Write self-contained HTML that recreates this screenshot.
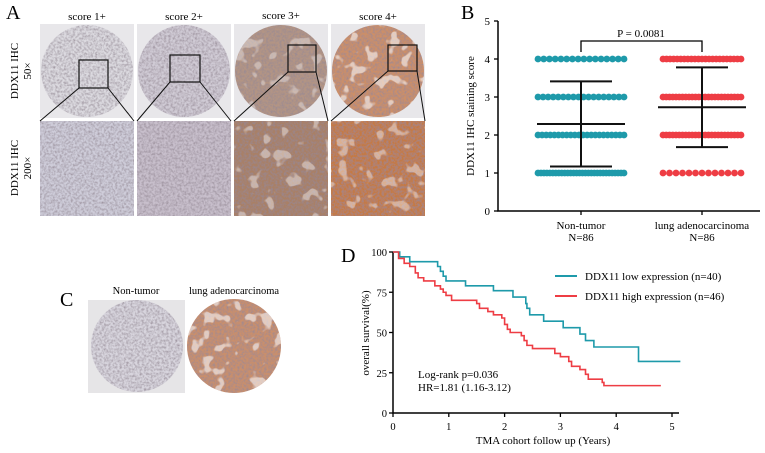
<!DOCTYPE html>
<html><head><meta charset="utf-8"><style>
body{margin:0;background:#fff;}
svg{display:block;font-family:"Liberation Serif",serif;}
</style></head><body>
<svg id="fig" width="765" height="453" viewBox="0 0 765 453" xmlns="http://www.w3.org/2000/svg">
<defs>
<filter id="tex" x="0" y="0" width="100%" height="100%">
<feTurbulence type="fractalNoise" baseFrequency="0.45" numOctaves="2" seed="3" result="n"/>
<feColorMatrix in="n" type="matrix" values="0 0 0 0 0.3  0 0 0 0 0.25  0 0 0 0 0.3  0 0 0 -1.6 1.05"/>
<feComposite in2="SourceGraphic" operator="in" result="t"/>
<feMerge><feMergeNode in="SourceGraphic"/><feMergeNode in="t"/></feMerge>
</filter>
<filter id="holes" x="0" y="0" width="100%" height="100%">
<feTurbulence type="fractalNoise" baseFrequency="0.08" numOctaves="2" seed="7" result="n"/>
<feColorMatrix in="n" type="matrix" values="0 0 0 0 1  0 0 0 0 1  0 0 0 0 1  0 0 0 -12 4.9"/>
<feComposite in2="SourceGraphic" operator="in"/>
</filter>
</defs>

<g>
<text x="6" y="19" font-size="20">A</text>
<text x="87" y="20" font-size="11" text-anchor="middle">score 1+</text>
<text x="184" y="20" font-size="11" text-anchor="middle">score 2+</text>
<text x="281" y="19" font-size="11" text-anchor="middle">score 3+</text>
<text x="378" y="20" font-size="11" text-anchor="middle">score 4+</text>
<text transform="translate(18,71) rotate(-90)" font-size="11" text-anchor="middle">DDX11 IHC</text>
<text transform="translate(31,71) rotate(-90)" font-size="11" text-anchor="middle">50×</text>
<text transform="translate(18,168) rotate(-90)" font-size="11" text-anchor="middle">DDX11 IHC</text>
<text transform="translate(31,168) rotate(-90)" font-size="11" text-anchor="middle">200×</text>
<g id="agrid"></g>
</g>

<g>
<text x="60" y="306" font-size="20">C</text>
<text x="136" y="294" font-size="10.5" text-anchor="middle">Non-tumor</text>
<text x="234" y="294" font-size="10.5" text-anchor="middle">lung adenocarcinoma</text>
<rect x="88" y="300" width="97" height="93" fill="#e6e5e7"/>
<circle cx="137" cy="346" r="46" fill="#d8d5de" filter="url(#tex)"/>
<circle cx="234" cy="346" r="47" fill="#c98f6c" filter="url(#tex)"/>
<circle cx="234" cy="346" r="47" fill="#fff" filter="url(#holes)" opacity="0.55"/>
</g>

<g id="pb">
<text x="461" y="19" font-size="20">B</text>
</g>

<g id="pd">
<text x="341" y="262" font-size="20">D</text>
</g>
</svg>
<script>
const NS="http://www.w3.org/2000/svg";
function mk(p,tag,attrs){const e=document.createElementNS(NS,tag);for(const k in attrs)e.setAttribute(k,attrs[k]);p.appendChild(e);return e;}

const aColors=["#dcdae0","#d0cbd5","#b39484","#cc8f68"];
const aZoomColors=["#cfcdda","#c8bfcc","#a98066","#c47a45"];
const aBoxes=[[79,60,29,28],[170,55,30,27],[288,45,28,27],[388,45,29,26]];
const ag=document.getElementById('agrid');
for(let i=0;i<4;i++){
  const x=40+i*97;
  const bg=mk(ag,'rect',{x:x,y:24,width:94,height:94,fill:'#e8e7ea'});
  
  
  const c=mk(ag,'circle',{cx:x+47,cy:71,r:46,fill:aColors[i],filter:'url(#tex)'});
  
  
  if(i>=2){
    const h=mk(ag,'circle',{cx:x+47,cy:71,r:46,fill:'#fff',filter:'url(#holes)',opacity:i===3?0.55:0.35});
    
    
  }
  const z=mk(ag,'rect',{x:x,y:121,width:94,height:95,fill:aZoomColors[i],filter:'url(#tex)'});
  
  
  if(i>=2){
    const zh=mk(ag,'rect',{x:x,y:121,width:94,height:95,fill:'#f4ece6',filter:'url(#holes)',opacity:0.4});
    
    
  }
  const b=aBoxes[i];
  const bx=mk(ag,'rect',{x:b[0],y:b[1],width:b[2],height:b[3],fill:'none',stroke:'#111','stroke-width':1.2});
  
  
  const l1=mk(ag,'line',{x1:b[0],y1:b[1]+b[3],x2:x,y2:121,stroke:'#111','stroke-width':1});
  
  
  const l2=mk(ag,'line',{x1:b[0]+b[2],y1:b[1]+b[3],x2:x+94,y2:121,stroke:'#111','stroke-width':1});
  
  
}

const bGroups=["Non-tumor","lung adenocarcinoma"];
const bScores=[1,2,3,4];
const bCountsNT=[30,22,18,16];
const bCountsLung=[13,25,25,23];
const bMeans=[2.29,2.73];
const bSDlo=[1.17,1.68];
const bSDhi=[3.41,3.78];
const bYTicks=[0,1,2,3,4,5];
const bColors=["#1e9aaa","#ee3d44"];
const pb=document.getElementById('pb');
const by=v=>211-v*38;
const bx=i=>[581,702][i];
const bax=mk(pb,'path',{d:'M498,21V211H760',fill:'none',stroke:'#000','stroke-width':1.5});


bYTicks.forEach(t=>{
  const tk=mk(pb,'line',{x1:494,x2:498,y1:by(t),y2:by(t),stroke:'#000','stroke-width':1.3});
  
  
  const tl=mk(pb,'text',{x:490,y:by(t)+4,'font-size':11,'text-anchor':'end'});tl.textContent=t;
  
  
});
const byt=mk(pb,'text',{transform:'translate(474,116) rotate(-90)','font-size':11,'text-anchor':'middle'});
byt.textContent='DDX11 IHC staining score';


[0,1].forEach(g=>{
  const tk=mk(pb,'line',{x1:bx(g),x2:bx(g),y1:211,y2:215,stroke:'#000','stroke-width':1.3});
  
  
  const t1=mk(pb,'text',{x:bx(g),y:229,'font-size':11,'text-anchor':'middle'});t1.textContent=bGroups[g];
  
  
  const t2=mk(pb,'text',{x:bx(g),y:241,'font-size':11,'text-anchor':'middle'});t2.textContent='N=86';
  
  
  const counts=g===0?bCountsNT:bCountsLung;
  const half=g===0?43:39;
  bScores.forEach((s,k)=>{
    const n=counts[k];
    for(let j=0;j<n;j++){
      const cx=bx(g)-half+(n>1?j*(2*half)/(n-1):half);
      const d=mk(pb,'circle',{cx:cx,cy:by(s),r:3.4,fill:bColors[g]});
      
      
    }
  });
  const cw=g===0?31:26;
  const ml=mk(pb,'line',{x1:bx(g)-44,x2:bx(g)+44,y1:by(bMeans[g]),y2:by(bMeans[g]),stroke:'#111','stroke-width':2});
  
  
  const el=mk(pb,'path',{d:`M${bx(g)},${by(bSDlo[g])}V${by(bSDhi[g])}M${bx(g)-cw},${by(bSDlo[g])}H${bx(g)+cw}M${bx(g)-cw},${by(bSDhi[g])}H${bx(g)+cw}`,fill:'none',stroke:'#111','stroke-width':2});
  
  
});
const br=mk(pb,'path',{d:`M${bx(0)},52V41H${bx(1)}V52`,fill:'none',stroke:'#000','stroke-width':1.3});


const pt=mk(pb,'text',{x:641,y:37,'font-size':11,'text-anchor':'middle'});pt.textContent='P = 0.0081';



const dXTicks=[0,1,2,3,4,5];
const dYTicks=[0,25,50,75,100];
const lowT=[0,0.12,0.3,0.8,0.85,0.9,0.95,1.0,1.3,1.8,2.15,2.38,2.4,2.45,2.7,3.05,3.35,3.45,3.6,4.4,5.15];
const lowS=[100,97,94,91,88,85,82,82,79,76,72,68,65,61,57,53,49,45,41,32,32];
const highT=[0,0.1,0.2,0.3,0.4,0.45,0.55,0.75,0.85,0.9,0.95,1.05,1.5,1.55,1.7,1.8,1.95,2.0,2.05,2.1,2.3,2.35,2.4,2.5,2.9,3.0,3.15,3.2,3.35,3.45,3.5,3.75,3.78,4.8];
const highS=[100,96,93,91,87,84,82,79,77,75,73,70,68,65,63,61,59,55,52,50,48,45,42,40,37,35,32,29,27,24,21,19,17,17];
const dColors=["#1e9aaa","#ee3d44"];
const pd=document.getElementById('pd');
const dx=t=>393+t*55.8;
const dy=v=>413-v*1.61;
const dax=mk(pd,'path',{d:`M${dx(0)},${dy(100)}V413H679`,fill:'none',stroke:'#000','stroke-width':1.5});


dYTicks.forEach(t=>{
  const tk=mk(pd,'line',{x1:389,x2:393,y1:dy(t),y2:dy(t),stroke:'#000','stroke-width':1.3});
  
  
  const tl=mk(pd,'text',{x:387,y:dy(t)+4,'font-size':10.5,'text-anchor':'end'});tl.textContent=t;
  
  
});
dXTicks.forEach(t=>{
  const tk=mk(pd,'line',{x1:dx(t),x2:dx(t),y1:413,y2:417,stroke:'#000','stroke-width':1.3});
  
  
  const tl=mk(pd,'text',{x:dx(t),y:430,'font-size':10.5,'text-anchor':'middle'});tl.textContent=t;
  
  
});
const dxt=mk(pd,'text',{x:543,y:444,'font-size':11,'text-anchor':'middle'});dxt.textContent='TMA cohort follow up (Years)';


const dyt=mk(pd,'text',{transform:'translate(369,333) rotate(-90)','font-size':11,'text-anchor':'middle'});dyt.textContent='overall survival(%)';


function km(T,S){let d=`M${dx(T[0])},${dy(S[0])}`;for(let i=1;i<T.length;i++){d+=`H${dx(T[i])}V${dy(S[i])}`;}return d;}
const lp=mk(pd,'path',{d:km(lowT,lowS),fill:'none',stroke:dColors[0],'stroke-width':1.6});


const hp=mk(pd,'path',{d:km(highT,highS),fill:'none',stroke:dColors[1],'stroke-width':1.6});


const legTexts=["DDX11 low expression (n=40)","DDX11 high expression (n=46)"];
[0,1].forEach(i=>{
  const y=276+i*20;
  const ll=mk(pd,'line',{x1:555,x2:577,y1:y,y2:y,stroke:dColors[i],'stroke-width':2});
  
  
  const lt=mk(pd,'text',{x:585,y:y+4,'font-size':11});lt.textContent=legTexts[i];
  
  
});
const s1=mk(pd,'text',{x:418,y:378,'font-size':11});s1.textContent='Log-rank p=0.036';


const s2=mk(pd,'text',{x:418,y:391,'font-size':11});s2.textContent='HR=1.81 (1.16-3.12)';


</script>
</body></html>
